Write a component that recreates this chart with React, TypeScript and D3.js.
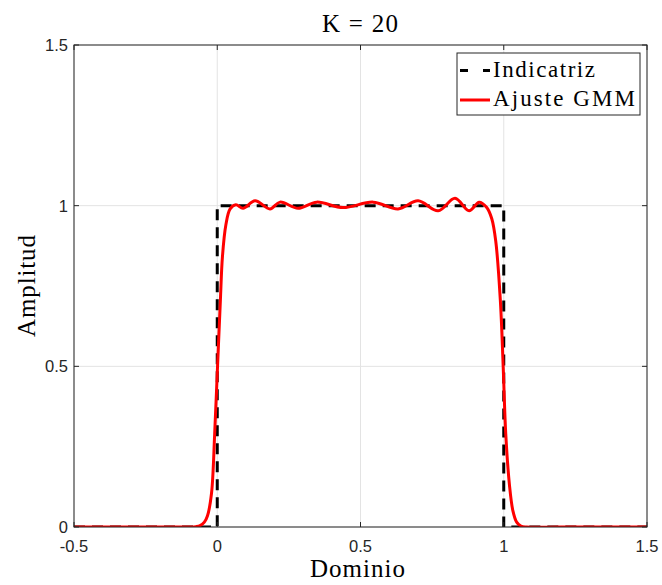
import React from "react";
import * as d3 from "d3";

const title = "K = 20";
const xLabel = "Dominio";
const yLabel = "Amplitud";
const xTicks = [-0.5, 0, 0.5, 1, 1.5];
const xTickLabels = ["-0.5", "0", "0.5", "1", "1.5"];
const yTicks = [0, 0.5, 1, 1.5];
const yTickLabels = ["0", "0.5", "1", "1.5"];
const seriesNames = ["Indicatriz", "Ajuste GMM"];

const indX = [-0.5, 0, 0, 1, 1, 1.5];
const indY = [0, 0, 1, 1, 0, 0];

const gmmX = [-0.5, -0.2, -0.1, -0.075, -0.06, -0.045, -0.034, -0.02, -0.009, 0.001, 0.011, 0.018, 0.03, 0.045, 0.065, 0.09, 0.132, 0.184, 0.219, 0.282, 0.347, 0.439, 0.544, 0.631, 0.701, 0.771, 0.83, 0.879, 0.914, 0.94, 0.958, 0.972, 0.988, 0.998, 1.007, 1.02, 1.032, 1.045, 1.06, 1.08, 1.2, 1.5];
const gmmY = [0, 0, 0, 0.001, 0.004, 0.015, 0.035, 0.105, 0.29, 0.5, 0.707, 0.84, 0.94, 0.99, 1.003, 0.992, 1.015, 0.99, 1.011, 0.992, 1.011, 0.994, 1.011, 0.99, 1.015, 0.984, 1.023, 0.984, 1.011, 0.995, 0.96, 0.89, 0.707, 0.5, 0.29, 0.13, 0.05, 0.015, 0.003, 0, 0, 0];

const W = 662, H = 585;
const L = 74, R = 647, T = 45, B = 527;

export default function App() {
  const x = d3.scaleLinear().domain([-0.5, 1.5]).range([L, R]);
  const y = d3.scaleLinear().domain([0, 1.5]).range([B, T]);
  const axisColor = "#262626";
  const gridColor = "#e3e3e3";

  const indLine = d3.line<number>().x((_, i) => x(indX[i])).y((_, i) => y(indY[i]));
  const gmmLine = d3
    .line<number>()
    .x((_, i) => x(gmmX[i]))
    .y((_, i) => y(gmmY[i]))
    .curve(d3.curveCatmullRom.alpha(0.5));

  const serif = "'Liberation Serif', 'Times New Roman', serif";
  const sans = "'Liberation Sans', Arial, Helvetica, sans-serif";

  return (
    <svg width={W} height={H} style={{ position: "absolute", left: 0, top: 0, background: "#fff" }}>
      <rect x={0} y={0} width={W} height={H} fill="#fff" />
      {xTicks.map((t, i) => (
        <line key={"gx" + i} x1={x(t)} x2={x(t)} y1={T} y2={B} stroke={gridColor} strokeWidth={1} />
      ))}
      {yTicks.map((t, i) => (
        <line key={"gy" + i} x1={L} x2={R} y1={y(t)} y2={y(t)} stroke={gridColor} strokeWidth={1} />
      ))}
      <clipPath id="clip">
        <rect x={L} y={T} width={R - L} height={B - T} />
      </clipPath>
      <g clipPath="url(#clip)">
        <path d={indLine(indX) || ""} fill="none" stroke="#000" strokeWidth={3} strokeDasharray="11,7" />
        <path d={gmmLine(gmmX) || ""} fill="none" stroke="#ff0000" strokeWidth={3} strokeLinejoin="round" />
      </g>
      <rect x={L} y={T} width={R - L} height={B - T} fill="none" stroke={axisColor} strokeWidth={1} />
      {xTicks.map((t, i) => (
        <g key={"tx" + i}>
          <line x1={x(t)} x2={x(t)} y1={B} y2={B - 5} stroke={axisColor} />
          <line x1={x(t)} x2={x(t)} y1={T} y2={T + 5} stroke={axisColor} />
          <text x={x(t)} y={552} textAnchor="middle" fontFamily={sans} fontSize={16.5} fill={axisColor}>
            {xTickLabels[i]}
          </text>
        </g>
      ))}
      {yTicks.map((t, i) => (
        <g key={"ty" + i}>
          <line x1={L} x2={L + 5} y1={y(t)} y2={y(t)} stroke={axisColor} />
          <line x1={R} x2={R - 5} y1={y(t)} y2={y(t)} stroke={axisColor} />
          <text x={68} y={y(t) + 6} textAnchor="end" fontFamily={sans} fontSize={16.5} fill={axisColor}>
            {yTickLabels[i]}
          </text>
        </g>
      ))}
      <text x={360} y={32} textAnchor="middle" fontFamily={serif} fontSize={25} fill="#000" textLength={76} lengthAdjust="spacing">
        {title}
      </text>
      <text x={357.5} y={577} textAnchor="middle" fontFamily={serif} fontSize={25} fill="#000" textLength={95} lengthAdjust="spacing">
        {xLabel}
      </text>
      <text transform={`translate(35,286) rotate(-90)`} textAnchor="middle" fontFamily={serif} fontSize={25} fill="#000" textLength={102} lengthAdjust="spacing">
        {yLabel}
      </text>
      <rect x={457} y={53} width={183} height={62} fill="#fff" stroke={axisColor} strokeWidth={1} />
      <line x1={460} x2={490} y1={70.5} y2={70.5} stroke="#000" strokeWidth={3} strokeDasharray="8,15" />
      <line x1={460} x2={490} y1={100} y2={100} stroke="#ff0000" strokeWidth={3} />
      <text x={493} y={77} fontFamily={serif} fontSize={23} fill="#000" textLength={102} lengthAdjust="spacing">
        {seriesNames[0]}
      </text>
      <text x={493} y={106} fontFamily={serif} fontSize={23} fill="#000" textLength={142} lengthAdjust="spacing">
        {seriesNames[1]}
      </text>
    </svg>
  );
}
